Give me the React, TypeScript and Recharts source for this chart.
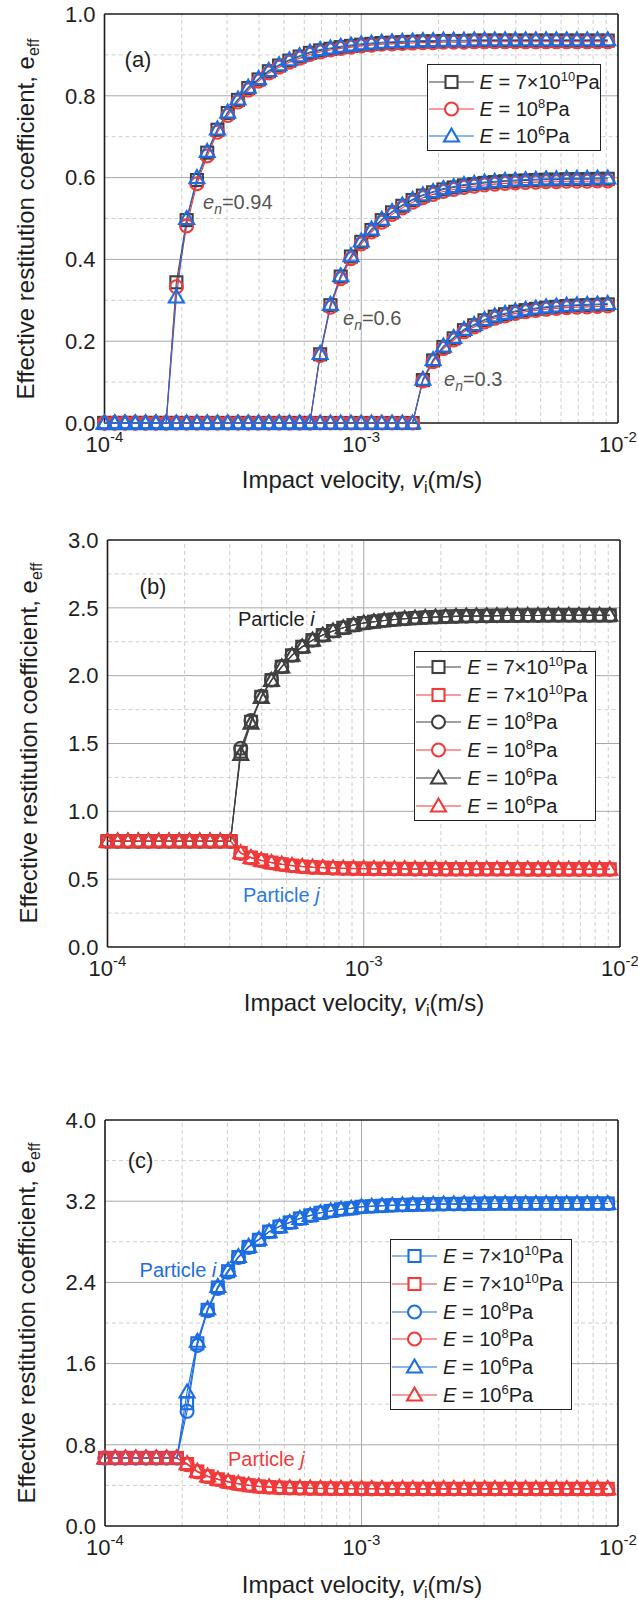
import React from 'react';
import { LineChart, Line, XAxis, YAxis, ReferenceLine } from 'recharts';

const FONT = '"Liberation Sans", Arial, Helvetica, sans-serif';
const DARK = '#404040';
const RED = '#f23a3a';
const BLUE = '#1d6de2';
const TEXT = '#1e1e1e';
const ANN = '#555555';

// impact velocity (m/s), shared x values of every series
const velocity = [
  1.000e-4, 1.096e-4, 1.202e-4, 1.318e-4, 1.445e-4, 1.585e-4, 1.738e-4, 1.905e-4, 2.089e-4, 2.291e-4,
  2.512e-4, 2.754e-4, 3.020e-4, 3.311e-4, 3.631e-4, 3.981e-4, 4.365e-4, 4.786e-4, 5.248e-4, 5.754e-4,
  6.310e-4, 6.918e-4, 7.586e-4, 8.318e-4, 9.120e-4, 1.000e-3, 1.096e-3, 1.202e-3, 1.318e-3, 1.445e-3,
  1.585e-3, 1.738e-3, 1.905e-3, 2.089e-3, 2.291e-3, 2.512e-3, 2.754e-3, 3.020e-3, 3.311e-3, 3.631e-3,
  3.981e-3, 4.365e-3, 4.786e-3, 5.248e-3, 5.754e-3, 6.310e-3, 6.918e-3, 7.586e-3, 8.318e-3, 9.120e-3,
];

const xMajorTicks = [1e-4, 1e-3, 1e-2];
const xMinorGrid = [2e-4, 3e-4, 4e-4, 5e-4, 6e-4, 7e-4, 8e-4, 9e-4, 2e-3, 3e-3, 4e-3, 5e-3, 6e-3, 7e-3, 8e-3, 9e-3];

// ---------- panel (a) ----------
const aYTicks = [0, 0.2, 0.4, 0.6, 0.8, 1.0];
const aYMinor = [0.1, 0.3, 0.5, 0.7, 0.9];

const a094Square = [0, 0, 0, 0, 0, 0, 0,
  0.344, 0.496, 0.594, 0.661, 0.717, 0.758, 0.790, 0.819, 0.840, 0.860, 0.874, 0.886, 0.896, 0.905, 0.911,
  0.915, 0.919, 0.922, 0.925, 0.927, 0.929, 0.930, 0.931, 0.932, 0.933, 0.933, 0.934, 0.934, 0.934,
  0.935, 0.935, 0.935, 0.935, 0.935, 0.935, 0.935, 0.935, 0.935, 0.935, 0.935, 0.935, 0.935, 0.935];
const a094Circle = [0, 0, 0, 0, 0, 0, 0,
  0.333, 0.482, 0.585, 0.653, 0.711, 0.752, 0.785, 0.814, 0.836, 0.856, 0.870, 0.882, 0.892, 0.901, 0.907,
  0.912, 0.916, 0.919, 0.922, 0.924, 0.926, 0.927, 0.928, 0.929, 0.930, 0.930, 0.931, 0.931, 0.931,
  0.932, 0.932, 0.932, 0.932, 0.932, 0.932, 0.932, 0.932, 0.932, 0.932, 0.932, 0.932, 0.932, 0.932];
const a094Triangle = [0, 0, 0, 0, 0, 0, 0,
  0.308, 0.500, 0.600, 0.664, 0.719, 0.760, 0.792, 0.821, 0.842, 0.862, 0.876, 0.888, 0.898, 0.907, 0.913,
  0.917, 0.921, 0.924, 0.927, 0.929, 0.931, 0.932, 0.933, 0.934, 0.935, 0.935, 0.936, 0.936, 0.936,
  0.937, 0.937, 0.937, 0.937, 0.937, 0.937, 0.937, 0.937, 0.937, 0.937, 0.937, 0.937, 0.937, 0.937];

const a06Square = [0, 0, 0, 0, 0, 0, 0, 0, 0, 0, 0, 0, 0, 0, 0, 0, 0, 0, 0, 0, 0,
  0.168, 0.288, 0.358, 0.407, 0.443, 0.472, 0.496, 0.515, 0.531, 0.545, 0.556, 0.564, 0.571, 0.576, 0.581,
  0.584, 0.587, 0.589, 0.591, 0.592, 0.593, 0.594, 0.595, 0.595, 0.596, 0.596, 0.596, 0.597, 0.597];
const a06Circle = [0, 0, 0, 0, 0, 0, 0, 0, 0, 0, 0, 0, 0, 0, 0, 0, 0, 0, 0, 0, 0,
  0.165, 0.283, 0.353, 0.402, 0.438, 0.467, 0.491, 0.510, 0.526, 0.540, 0.551, 0.559, 0.566, 0.571, 0.576,
  0.579, 0.582, 0.584, 0.586, 0.587, 0.588, 0.589, 0.590, 0.590, 0.591, 0.591, 0.591, 0.592, 0.592];
const a06Triangle = [0, 0, 0, 0, 0, 0, 0, 0, 0, 0, 0, 0, 0, 0, 0, 0, 0, 0, 0, 0, 0,
  0.170, 0.290, 0.360, 0.409, 0.445, 0.474, 0.498, 0.517, 0.533, 0.547, 0.558, 0.566, 0.573, 0.578, 0.583,
  0.586, 0.589, 0.591, 0.593, 0.594, 0.595, 0.596, 0.597, 0.597, 0.598, 0.598, 0.598, 0.599, 0.599];

const a03Square = [0, 0, 0, 0, 0, 0, 0, 0, 0, 0, 0, 0, 0, 0, 0, 0, 0, 0, 0, 0, 0, 0, 0, 0, 0, 0, 0, 0, 0, 0, 0,
  0.105, 0.153, 0.186, 0.207, 0.227, 0.239, 0.251, 0.260, 0.266, 0.272, 0.276, 0.279, 0.282, 0.284, 0.286,
  0.287, 0.288, 0.289, 0.290];
const a03Circle = [0, 0, 0, 0, 0, 0, 0, 0, 0, 0, 0, 0, 0, 0, 0, 0, 0, 0, 0, 0, 0, 0, 0, 0, 0, 0, 0, 0, 0, 0, 0,
  0.103, 0.150, 0.182, 0.203, 0.223, 0.235, 0.247, 0.256, 0.262, 0.268, 0.272, 0.275, 0.278, 0.280, 0.282,
  0.283, 0.284, 0.285, 0.286];
const a03Triangle = [0, 0, 0, 0, 0, 0, 0, 0, 0, 0, 0, 0, 0, 0, 0, 0, 0, 0, 0, 0, 0, 0, 0, 0, 0, 0, 0, 0, 0, 0, 0,
  0.107, 0.155, 0.188, 0.209, 0.229, 0.241, 0.253, 0.262, 0.268, 0.274, 0.278, 0.281, 0.284, 0.286, 0.288,
  0.289, 0.290, 0.291, 0.292];

// ---------- panel (b) ----------
const bYTicks = [0, 0.5, 1.0, 1.5, 2.0, 2.5, 3.0];
const bYMinor = [0.25, 0.75, 1.25, 1.75, 2.25, 2.75];

const bSquareI = [0.78, 0.78, 0.78, 0.78, 0.78, 0.78, 0.78, 0.78, 0.78, 0.78, 0.78, 0.78, 0.78,
  1.44, 1.66, 1.844, 1.967, 2.066, 2.15, 2.213, 2.262, 2.299, 2.329, 2.353, 2.373, 2.388, 2.398, 2.407,
  2.414, 2.420, 2.425, 2.429, 2.432, 2.435, 2.437, 2.439, 2.440, 2.441, 2.442, 2.443, 2.443, 2.444, 2.444,
  2.445, 2.445, 2.445, 2.445, 2.445, 2.445, 2.445];
const bCircleI = [0.78, 0.78, 0.78, 0.78, 0.78, 0.78, 0.78, 0.78, 0.78, 0.78, 0.78, 0.78, 0.78,
  1.465, 1.67, 1.848, 1.969, 2.067, 2.151, 2.213, 2.262, 2.299, 2.329, 2.353, 2.373, 2.388, 2.398, 2.407,
  2.414, 2.420, 2.425, 2.429, 2.432, 2.435, 2.437, 2.439, 2.440, 2.441, 2.442, 2.443, 2.443, 2.444, 2.444,
  2.445, 2.445, 2.445, 2.445, 2.445, 2.445, 2.445];
const bTriangleI = [0.78, 0.78, 0.78, 0.78, 0.78, 0.78, 0.78, 0.78, 0.78, 0.78, 0.78, 0.78, 0.78,
  1.42, 1.65, 1.84, 1.965, 2.065, 2.15, 2.213, 2.262, 2.299, 2.329, 2.353, 2.373, 2.388, 2.398, 2.407,
  2.414, 2.420, 2.425, 2.429, 2.432, 2.435, 2.437, 2.439, 2.440, 2.441, 2.442, 2.443, 2.443, 2.444, 2.444,
  2.445, 2.445, 2.445, 2.445, 2.445, 2.445, 2.445];
const bSquareJ = [0.78, 0.78, 0.78, 0.78, 0.78, 0.78, 0.78, 0.78, 0.78, 0.78, 0.78, 0.78, 0.78,
  0.693, 0.659, 0.639, 0.622, 0.610, 0.600, 0.593, 0.588, 0.585, 0.582, 0.580, 0.579, 0.578, 0.577, 0.577,
  0.576, 0.576, 0.575, 0.575, 0.575, 0.574, 0.574, 0.574, 0.574, 0.574, 0.574, 0.574, 0.574,
  0.573, 0.573, 0.573, 0.573, 0.573, 0.573, 0.573, 0.573, 0.573];
const bCircleJ = [0.78, 0.78, 0.78, 0.78, 0.78, 0.78, 0.78, 0.78, 0.78, 0.78, 0.78, 0.78, 0.78,
  0.690, 0.657, 0.637, 0.621, 0.609, 0.599, 0.592, 0.587, 0.584, 0.581, 0.579, 0.578, 0.577, 0.576, 0.576,
  0.575, 0.575, 0.574, 0.574, 0.574, 0.573, 0.573, 0.573, 0.573, 0.573, 0.573, 0.573, 0.573,
  0.572, 0.572, 0.572, 0.572, 0.572, 0.572, 0.572, 0.572, 0.572];
const bTriangleJ = [0.78, 0.78, 0.78, 0.78, 0.78, 0.78, 0.78, 0.78, 0.78, 0.78, 0.78, 0.78, 0.78,
  0.695, 0.660, 0.640, 0.623, 0.611, 0.601, 0.594, 0.589, 0.586, 0.583, 0.581, 0.580, 0.579, 0.578, 0.578,
  0.577, 0.577, 0.576, 0.576, 0.576, 0.575, 0.575, 0.575, 0.575, 0.575, 0.575, 0.575, 0.575,
  0.574, 0.574, 0.574, 0.574, 0.574, 0.574, 0.574, 0.574, 0.574];

// ---------- panel (c) ----------
const cYTicks = [0, 0.8, 1.6, 2.4, 3.2, 4.0];
const cYMinor = [0.4, 1.2, 2.0, 2.8, 3.6];

const cSquareI = [0.67, 0.67, 0.67, 0.67, 0.67, 0.67, 0.67, 0.67,
  1.21, 1.80, 2.13, 2.35, 2.51, 2.65, 2.75, 2.82, 2.90, 2.95, 2.99, 3.03, 3.06, 3.086, 3.104,
  3.12, 3.13, 3.145, 3.15, 3.155, 3.16, 3.163, 3.166, 3.168, 3.17, 3.172, 3.173, 3.174, 3.175, 3.176,
  3.177, 3.177, 3.177, 3.177, 3.177, 3.177, 3.177, 3.177, 3.177, 3.177, 3.177, 3.177];
const cCircleI = [0.67, 0.67, 0.67, 0.67, 0.67, 0.67, 0.67, 0.67,
  1.13, 1.78, 2.12, 2.34, 2.50, 2.645, 2.745, 2.82, 2.90, 2.95, 2.99, 3.03, 3.06, 3.086, 3.104,
  3.12, 3.13, 3.145, 3.15, 3.155, 3.16, 3.163, 3.166, 3.168, 3.17, 3.172, 3.173, 3.174, 3.175, 3.176,
  3.177, 3.177, 3.177, 3.177, 3.177, 3.177, 3.177, 3.177, 3.177, 3.177, 3.177, 3.177];
const cTriangleI = [0.67, 0.67, 0.67, 0.67, 0.67, 0.67, 0.67, 0.67,
  1.32, 1.82, 2.14, 2.36, 2.52, 2.655, 2.755, 2.825, 2.90, 2.95, 2.99, 3.03, 3.06, 3.086, 3.104,
  3.12, 3.13, 3.145, 3.15, 3.155, 3.16, 3.163, 3.166, 3.168, 3.17, 3.172, 3.173, 3.174, 3.175, 3.176,
  3.177, 3.177, 3.177, 3.177, 3.177, 3.177, 3.177, 3.177, 3.177, 3.177, 3.177, 3.177];
const cSquareJ = [0.67, 0.67, 0.67, 0.67, 0.67, 0.67, 0.67, 0.67,
  0.61, 0.537, 0.49, 0.46, 0.435, 0.417, 0.402, 0.39, 0.383, 0.378, 0.375, 0.373, 0.371, 0.370, 0.369,
  0.368, 0.368, 0.367, 0.367, 0.366, 0.366, 0.366, 0.366, 0.366, 0.366, 0.366, 0.366, 0.366, 0.366,
  0.366, 0.366, 0.366, 0.366, 0.366, 0.366, 0.366, 0.366, 0.366, 0.366, 0.366, 0.366, 0.366];
const cCircleJ = [0.67, 0.67, 0.67, 0.67, 0.67, 0.67, 0.67, 0.67,
  0.605, 0.533, 0.487, 0.458, 0.433, 0.415, 0.401, 0.389, 0.382, 0.377, 0.374, 0.372, 0.370, 0.369, 0.368,
  0.367, 0.367, 0.366, 0.366, 0.365, 0.365, 0.365, 0.365, 0.365, 0.365, 0.365, 0.365, 0.365, 0.365,
  0.365, 0.365, 0.365, 0.365, 0.365, 0.365, 0.365, 0.365, 0.365, 0.365, 0.365, 0.365, 0.365];
const cTriangleJ = [0.67, 0.67, 0.67, 0.67, 0.67, 0.67, 0.67, 0.67,
  0.615, 0.54, 0.492, 0.462, 0.437, 0.419, 0.404, 0.392, 0.385, 0.380, 0.377, 0.375, 0.373, 0.372, 0.371,
  0.370, 0.370, 0.369, 0.369, 0.368, 0.368, 0.368, 0.368, 0.368, 0.368, 0.368, 0.368, 0.368, 0.368,
  0.368, 0.368, 0.368, 0.368, 0.368, 0.368, 0.368, 0.368, 0.368, 0.368, 0.368, 0.368, 0.368];

// legend labels: mantissa + exponent
const labelE7e10 = { pre: '7×10', exp: '10' };
const labelE8 = { pre: '10', exp: '8' };
const labelE6 = { pre: '10', exp: '6' };

type Shape = 'square' | 'circle' | 'triangle';
interface SeriesDef { key: string; color: string; shape: Shape; values: number[] }
interface LegendItem { color: string; shape: Shape; label: { pre: string; exp: string } }

function Marker({ shape, color, cx, cy, fill }: { shape: Shape; color: string; cx: number; cy: number; fill: string }) {
  if (shape === 'square') {
    return <rect x={cx - 6} y={cy - 6} width={12} height={12} fill={fill} stroke={color} strokeWidth={2.1} />;
  }
  if (shape === 'circle') {
    return <circle cx={cx} cy={cy} r={6.5} fill={fill} stroke={color} strokeWidth={2.1} />;
  }
  return <path d={`M${cx},${cy - 7.5}L${cx + 7.5},${cy + 5.5}L${cx - 7.5},${cy + 5.5}Z`} fill={fill} stroke={color} strokeWidth={2.1} strokeLinejoin="miter" />;
}

function makeDot(shape: Shape, color: string) {
  return (p: any) => {
    const { cx, cy, index } = p;
    if (cx == null || cy == null || isNaN(cx) || isNaN(cy)) return <g key={`e${index}`} />;
    return <Marker key={`d${index}`} shape={shape} color={color} cx={cx} cy={cy} fill="none" />;
  };
}

const XTick = (props: any) => {
  const { x, y, payload } = props;
  const exp = Math.round(Math.log10(payload.value));
  return (
    <text x={x} y={y + 29} textAnchor="middle" fill={TEXT} fontSize={22} fontFamily={FONT}>
      10<tspan dy={-10} fontSize={15}>{String(exp)}</tspan>
    </text>
  );
};

function Txt({ x, y, center, color, size, children }: { x: number; y: number; center?: boolean; color?: string; size?: number; children: React.ReactNode }) {
  return (
    <div style={{ position: 'absolute', left: x, top: y, transform: center ? 'translate(-50%,-50%)' : 'translate(0,-50%)', fontSize: size || 20, color: color || TEXT, fontFamily: FONT, whiteSpace: 'nowrap', lineHeight: 1, pointerEvents: 'none' }}>
      {children}
    </div>
  );
}

const subStyle: React.CSSProperties = { fontSize: 14, position: 'relative', top: 5, verticalAlign: 'baseline' };
const supStyle: React.CSSProperties = { fontSize: 13, position: 'relative', top: -8, verticalAlign: 'baseline' };

function LegendBox({ left, top, width, height, items, firstY, step }: { left: number; top: number; width: number; height: number; items: LegendItem[]; firstY: number; step: number }) {
  return (
    <div style={{ position: 'absolute', left, top, width, height, border: '1.5px solid #222', boxSizing: 'border-box', background: '#fff', fontFamily: FONT, fontSize: 20, color: TEXT }}>
      {items.map((it, i) => (
        <div key={i} style={{ position: 'absolute', left: 1, top: firstY + i * step - 14 - 1.5, height: 28, display: 'flex', alignItems: 'center', whiteSpace: 'nowrap' }}>
          <svg width={45} height={28} style={{ display: 'block' }}>
            <line x1={0} y1={14} x2={45} y2={14} stroke={it.color} strokeWidth={1.2} />
            <Marker shape={it.shape} color={it.color} cx={22.5} cy={14} fill="#fff" />
          </svg>
          <span style={{ marginLeft: 6, lineHeight: 1 }}>
            <i>E</i> = {it.label.pre}<span style={supStyle}>{it.label.exp}</span>Pa
          </span>
        </div>
      ))}
    </div>
  );
}

interface PanelProps {
  top: number; height: number; plotTop: number; plotBottom: number; plotLeft: number; plotRight: number;
  yDomain: [number, number]; yTicks: number[]; yMinor: number[]; series: SeriesDef[];
  legend: { left: number; top: number; width: number; height: number; items: LegendItem[]; firstY: number; step: number };
  yTitle: [number, number]; xTitle: [number, number];
  children?: React.ReactNode;
}

function Panel(p: PanelProps) {
  const data = velocity.map((v, i) => {
    const row: any = { v };
    p.series.forEach((s) => { row[s.key] = s.values[i]; });
    return row;
  });
  const yMajorInner = p.yTicks.slice(1, -1);
  return (
    <div style={{ position: 'absolute', left: 0, top: p.top, width: 638, height: p.height }}>
      <LineChart width={638} height={p.height} data={data}
        margin={{ top: p.plotTop, right: 638 - p.plotRight, left: 0, bottom: 0 }}>
        <XAxis dataKey="v" type="number" scale="log" domain={[1e-4, 1e-2]} ticks={xMajorTicks} interval={0}
          tick={<XTick />} tickLine={false} axisLine={false} tickSize={0} tickMargin={0} height={p.height - p.plotBottom} />
        <YAxis type="number" domain={p.yDomain} ticks={p.yTicks} interval={0} width={p.plotLeft}
          tickLine={false} axisLine={false} tickSize={0} tickMargin={9}
          tick={{ fill: TEXT, fontSize: 22, fontFamily: FONT }} tickFormatter={(v: number) => v.toFixed(1)} />
        {xMinorGrid.map((x) => <ReferenceLine key={'xm' + x} x={x} stroke="#cfcfcf" strokeDasharray="4 3" strokeWidth={1} />)}
        {p.yMinor.map((y) => <ReferenceLine key={'ym' + y} y={y} stroke="#cfcfcf" strokeDasharray="4 3" strokeWidth={1} />)}
        <ReferenceLine x={1e-3} stroke="#a9a9a9" strokeWidth={1} />
        {yMajorInner.map((y) => <ReferenceLine key={'yM' + y} y={y} stroke="#a9a9a9" strokeWidth={1} />)}
        <ReferenceLine x={1e-4} stroke="#1a1a1a" strokeWidth={1.6} />
        <ReferenceLine x={1e-2} stroke="#1a1a1a" strokeWidth={1.6} />
        <ReferenceLine y={p.yDomain[0]} stroke="#1a1a1a" strokeWidth={1.6} />
        <ReferenceLine y={p.yDomain[1]} stroke="#1a1a1a" strokeWidth={1.6} />
        {p.series.map((s) => (
          <Line key={s.key} dataKey={s.key} stroke={s.color} strokeWidth={1.1} dot={makeDot(s.shape, s.color)}
            activeDot={false} isAnimationActive={false} legendType="none" />
        ))}
      </LineChart>
      <LegendBox {...p.legend} />
      <div style={{ position: 'absolute', left: p.yTitle[0], top: p.yTitle[1], transform: 'translate(-50%,-50%) rotate(-90deg)', fontSize: 24, fontFamily: FONT, color: TEXT, whiteSpace: 'nowrap', lineHeight: 1 }}>
        Effective restitution coefficient, e<span style={{ fontSize: 16, position: 'relative', top: 5 }}>eff</span>
      </div>
      <div style={{ position: 'absolute', left: p.xTitle[0], top: p.xTitle[1], transform: 'translate(-50%,-50%)', fontSize: 24, fontFamily: FONT, color: TEXT, whiteSpace: 'nowrap', lineHeight: 1 }}>
        Impact velocity, <i>v</i><span style={{ fontSize: 16, position: 'relative', top: 5 }}>i</span>(m/s)
      </div>
      {p.children}
    </div>
  );
}

const seriesA: SeriesDef[] = [
  { key: 'sq094', color: DARK, shape: 'square', values: a094Square },
  { key: 'sq06', color: DARK, shape: 'square', values: a06Square },
  { key: 'sq03', color: DARK, shape: 'square', values: a03Square },
  { key: 'ci094', color: RED, shape: 'circle', values: a094Circle },
  { key: 'ci06', color: RED, shape: 'circle', values: a06Circle },
  { key: 'ci03', color: RED, shape: 'circle', values: a03Circle },
  { key: 'tr094', color: BLUE, shape: 'triangle', values: a094Triangle },
  { key: 'tr06', color: BLUE, shape: 'triangle', values: a06Triangle },
  { key: 'tr03', color: BLUE, shape: 'triangle', values: a03Triangle },
];
const legendA: LegendItem[] = [
  { color: DARK, shape: 'square', label: labelE7e10 },
  { color: RED, shape: 'circle', label: labelE8 },
  { color: BLUE, shape: 'triangle', label: labelE6 },
];

const seriesB: SeriesDef[] = [
  { key: 'sqI', color: DARK, shape: 'square', values: bSquareI },
  { key: 'sqJ', color: RED, shape: 'square', values: bSquareJ },
  { key: 'ciI', color: DARK, shape: 'circle', values: bCircleI },
  { key: 'ciJ', color: RED, shape: 'circle', values: bCircleJ },
  { key: 'trI', color: DARK, shape: 'triangle', values: bTriangleI },
  { key: 'trJ', color: RED, shape: 'triangle', values: bTriangleJ },
];
const legendB: LegendItem[] = [
  { color: DARK, shape: 'square', label: labelE7e10 },
  { color: RED, shape: 'square', label: labelE7e10 },
  { color: DARK, shape: 'circle', label: labelE8 },
  { color: RED, shape: 'circle', label: labelE8 },
  { color: DARK, shape: 'triangle', label: labelE6 },
  { color: RED, shape: 'triangle', label: labelE6 },
];

const seriesC: SeriesDef[] = [
  { key: 'sqI', color: BLUE, shape: 'square', values: cSquareI },
  { key: 'sqJ', color: RED, shape: 'square', values: cSquareJ },
  { key: 'ciI', color: BLUE, shape: 'circle', values: cCircleI },
  { key: 'ciJ', color: RED, shape: 'circle', values: cCircleJ },
  { key: 'trI', color: BLUE, shape: 'triangle', values: cTriangleI },
  { key: 'trJ', color: RED, shape: 'triangle', values: cTriangleJ },
];
const legendC: LegendItem[] = [
  { color: BLUE, shape: 'square', label: labelE7e10 },
  { color: RED, shape: 'square', label: labelE7e10 },
  { color: BLUE, shape: 'circle', label: labelE8 },
  { color: RED, shape: 'circle', label: labelE8 },
  { color: BLUE, shape: 'triangle', label: labelE6 },
  { color: RED, shape: 'triangle', label: labelE6 },
];

export default function App() {
  return (
    <div style={{ position: 'absolute', left: 0, top: 0, width: 638, height: 1603, background: '#fff', overflow: 'hidden' }}>
      <Panel top={0} height={500} plotTop={14} plotBottom={423} plotLeft={104.5} plotRight={618}
        yDomain={[0, 1]} yTicks={aYTicks} yMinor={aYMinor} series={seriesA}
        legend={{ left: 426.5, top: 63.5, width: 174, height: 87.5, items: legendA, firstY: 18.5, step: 27.2 }}
        yTitle={[26, 218.5]} xTitle={[362, 480]}>
        <Txt x={138} y={60} center size={22}>(a)</Txt>
        <Txt x={203} y={202} color={ANN}><i>e</i><span style={subStyle}><i>n</i></span>=0.94</Txt>
        <Txt x={343} y={318} color={ANN}><i>e</i><span style={subStyle}><i>n</i></span>=0.6</Txt>
        <Txt x={444} y={379} color={ANN}><i>e</i><span style={subStyle}><i>n</i></span>=0.3</Txt>
      </Panel>
      <Panel top={500} height={520} plotTop={40} plotBottom={447} plotLeft={107.5} plotRight={620}
        yDomain={[0, 3]} yTicks={bYTicks} yMinor={bYMinor} series={seriesB}
        legend={{ left: 414.3, top: 150.7, width: 181.4, height: 170, items: legendB, firstY: 16.6, step: 27.75 }}
        yTitle={[28.5, 243]} xTitle={[364, 503]}>
        <Txt x={153} y={86.7} center size={22}>(b)</Txt>
        <Txt x={238} y={119}>Particle <i>i</i></Txt>
        <Txt x={243} y={395} color="#2a7be4">Particle <i>j</i></Txt>
      </Panel>
      <Panel top={1020} height={583} plotTop={100} plotBottom={506} plotLeft={105} plotRight={618}
        yDomain={[0, 4]} yTicks={cYTicks} yMinor={cYMinor} series={seriesC}
        legend={{ left: 390, top: 219.3, width: 181.7, height: 170.3, items: legendC, firstY: 17.4, step: 27.7 }}
        yTitle={[27, 303]} xTitle={[362, 565]}>
        <Txt x={140.5} y={141} center size={22}>(c)</Txt>
        <Txt x={139.6} y={250} color={BLUE}>Particle <i>i</i></Txt>
        <Txt x={228} y={438.7} color={RED}>Particle <i>j</i></Txt>
      </Panel>
    </div>
  );
}
